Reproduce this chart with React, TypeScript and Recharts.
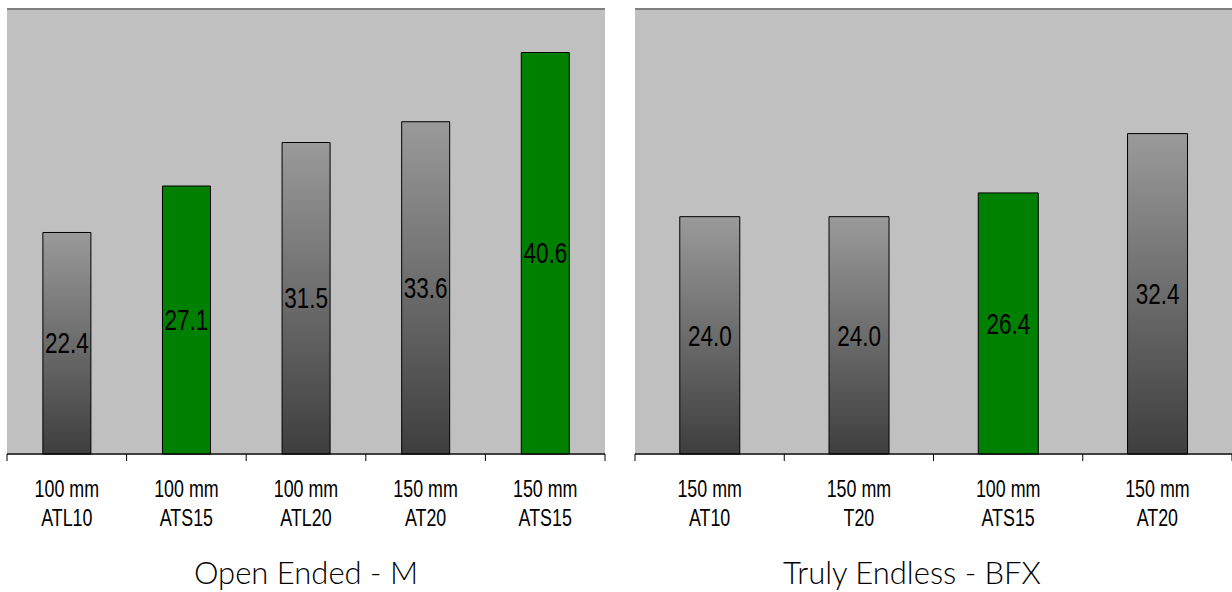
import { BarChart, Bar, XAxis, YAxis, CartesianGrid, Cell, LabelList } from 'recharts';

const leftSizes = ['100 mm', '100 mm', '100 mm', '150 mm', '150 mm'];
const leftBelts = ['ATL10', 'ATS15', 'ATL20', 'AT20', 'ATS15'];
const leftValues = [22.4, 27.1, 31.5, 33.6, 40.6];
const leftGreen = [false, true, false, false, true];

const rightSizes = ['150 mm', '150 mm', '100 mm', '150 mm'];
const rightBelts = ['AT10', 'T20', 'ATS15', 'AT20'];
const rightValues = [24.0, 24.0, 26.4, 32.4];
const rightGreen = [false, false, true, false];

const leftTitle = 'Open Ended - M';
const rightTitle = 'Truly Endless - BFX';

const yMax = 45;
const sans = '"Liberation Sans", Arial, sans-serif';

function buildRows(sizes: string[], belts: string[], values: number[], green: boolean[]) {
  return values.map((v, i) => ({
    name: sizes[i] + '|' + belts[i],
    value: v,
    green: green[i],
  }));
}

// two-line category label, plus the excel-style tick marks between categories
function TwoLineTick(props: any) {
  const { x, y, payload, index, visibleTicksCount } = props;
  const [a, b] = String(payload.value).split('|');
  const half = payload.offset || 0;
  const last = index === visibleTicksCount - 1;
  return (
    <g>
      <line x1={x - half} x2={x - half} y1={y} y2={y + 7} stroke="#000" />
      {last && <line x1={x + half} x2={x + half} y1={y} y2={y + 7} stroke="#000" />}
      <g transform={`translate(${x},${y}) scale(0.76,1)`}>
        <text x={0} y={0} textAnchor="middle" fill="#000" fontFamily={sans} fontSize={23.5}>
          <tspan x={0} dy={43}>{a}</tspan>
          <tspan x={0} dy={29}>{b}</tspan>
        </text>
      </g>
    </g>
  );
}

function BarValue(props: any) {
  const { x, y, width, height, value } = props;
  const cx = x + width / 2;
  const cy = y + height / 2;
  return (
    <g transform={`translate(${cx},${cy}) scale(0.75,1)`}>
      <text x={0} y={0} textAnchor="middle" dominantBaseline="central" fill="#000" fontFamily={sans} fontSize={30}>
        {Number(value).toFixed(1)}
      </text>
    </g>
  );
}

function Panel({ rows, width, left, right, id }: { rows: any[]; width: number; left: number; right: number; id: string }) {
  return (
    <BarChart
      width={width}
      height={592}
      data={rows}
      barCategoryGap="30%"
      margin={{ top: 9, right, left, bottom: 78 }}
    >
      <defs>
        <linearGradient id={id} x1="0" y1="0" x2="0" y2="1">
          <stop offset="0%" stopColor="#9a9a9a" />
          <stop offset="100%" stopColor="#3e3e3e" />
        </linearGradient>
      </defs>
      <CartesianGrid fill="#c0c0c0" stroke="#808080" strokeWidth={2} vertical={false} />
      <XAxis
        dataKey="name"
        height={60}
        axisLine={{ stroke: '#000' }}
        tickLine={false}
        tickSize={0}
        tickMargin={0}
        tick={<TwoLineTick />}
        interval={0}
      />
      <YAxis
        domain={[0, yMax]}
        ticks={[0, yMax]}
        width={0}
        tick={false}
        tickLine={false}
        axisLine={{ stroke: '#808080', strokeWidth: 2 }}
      />
      <Bar dataKey="value" stroke="#000" strokeWidth={1} isAnimationActive={false}>
        {rows.map((r, i) => (
          <Cell key={i} fill={r.green ? '#008000' : `url(#${id})`} />
        ))}
        <LabelList dataKey="value" content={<BarValue />} />
      </Bar>
    </BarChart>
  );
}

const titleStyle: React.CSSProperties = {
  position: 'absolute',
  top: 554,
  fontFamily: 'Lato, "Open Sans", sans-serif',
  fontWeight: 300,
  fontSize: 31,
  color: '#000',
  textAlign: 'center',
  lineHeight: '36px',
};

export default function App() {
  const leftRows = buildRows(leftSizes, leftBelts, leftValues, leftGreen);
  const rightRows = buildRows(rightSizes, rightBelts, rightValues, rightGreen);
  return (
    <div style={{ position: 'absolute', left: 0, top: 0, width: 1232, height: 592, background: '#fff', overflow: 'hidden' }}>
      <div style={{ position: 'absolute', left: 0, top: 0 }}>
        <Panel rows={leftRows} width={620} left={7} right={15} id="gradL" />
      </div>
      <div style={{ position: 'absolute', left: 620, top: 0 }}>
        <Panel rows={rightRows} width={612} left={15} right={0} id="gradR" />
      </div>
      <div style={{ ...titleStyle, left: 7, width: 598 }}>{leftTitle}</div>
      <div style={{ ...titleStyle, left: 620, width: 584 }}>{rightTitle}</div>
    </div>
  );
}
